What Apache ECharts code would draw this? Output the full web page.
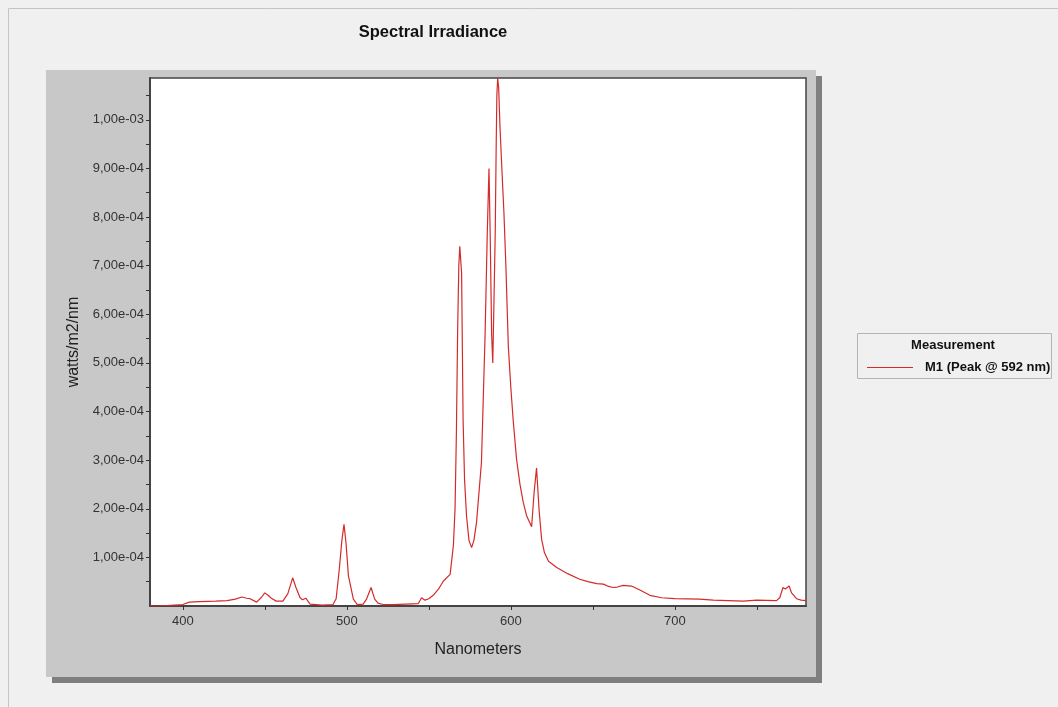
<!DOCTYPE html>
<html>
<head>
<meta charset="utf-8">
<script src="https://cdn.jsdelivr.net/npm/echarts@6/dist/echarts.min.js"></script>
<style>
html,body{margin:0;padding:0;background:#f0f0f0;}
#c{width:1058px;height:707px;}
</style>
</head>
<body>
<div id="c"></div>
<script>
// Wavelength (nm)
const wavelengths = [380,385,390,395,400,404,410,420,427,432,436,439,441,445,448,450,452,454,457,461,464,467,469,471.5,473,475,477.6,485,491.6,493.5,495.4,497,498.3,499.5,501,504,506.4,510,512,514.8,517,519,522,528,536,543.6,545.6,547.7,550,552.7,556,558.8,563,565,566,566.8,567.6,568.3,568.9,570,570.9,571.8,573,574.5,576.1,577.5,579.1,582.1,584.3,585.7,586.7,587.5,588.3,589,589.7,590.5,591.1,591.5,592,592.6,593.4,594.4,595.8,597,598.5,600,601.5,603.5,605.6,607.6,609.7,612.7,614.2,615.7,617.3,618.8,620.5,623,628,635,642,647,652.4,656.5,659,662.4,665,668.5,673.6,678.7,684.8,692,700,715,723.5,741.7,750,762,764,766,767.4,769.7,771.2,774.2,777,780];
// Spectral irradiance (watts/m2/nm)
const irradiance = [0,0,1e-6,2e-6,3e-6,8e-6,9e-6,1.0e-5,1.1e-5,1.4e-5,1.85e-5,1.6e-5,1.5e-5,8e-6,1.8e-5,2.7e-5,2.2e-5,1.6e-5,1.0e-5,1.0e-5,2.5e-5,5.8e-5,3.8e-5,1.7e-5,1.3e-5,1.6e-5,4e-6,2e-6,3e-6,1.5e-5,7.5e-5,1.35e-4,1.68e-4,1.3e-4,6.2e-5,1.4e-5,3e-6,4e-6,1.4e-5,3.8e-5,1.4e-5,6e-6,3e-6,3e-6,4e-6,5e-6,1.7e-5,1.2e-5,1.5e-5,2.2e-5,3.5e-5,5.1e-5,6.5e-5,1.25e-4,2.0e-4,3.5e-4,5.7e-4,7.0e-4,7.4e-4,6.85e-4,3.84e-4,2.6e-4,1.85e-4,1.35e-4,1.2e-4,1.35e-4,1.72e-4,2.95e-4,5.55e-4,7.74e-4,9.0e-4,7.5e-4,5.6e-4,5.0e-4,6.2e-4,7.67e-4,9.5e-4,1.05e-3,1.086e-3,1.066e-3,9.86e-4,9.1e-4,8.1e-4,7.0e-4,5.34e-4,4.5e-4,3.8e-4,3.02e-4,2.5e-4,2.13e-4,1.85e-4,1.63e-4,2.33e-4,2.84e-4,1.95e-4,1.37e-4,1.1e-4,9.2e-5,7.9e-5,6.6e-5,5.5e-5,5.0e-5,4.6e-5,4.5e-5,4.1e-5,3.8e-5,3.9e-5,4.25e-5,4.1e-5,3.3e-5,2.2e-5,1.7e-5,1.5e-5,1.4e-5,1.2e-5,1.0e-5,1.2e-5,1.1e-5,1.7e-5,3.8e-5,3.5e-5,4.1e-5,2.7e-5,1.5e-5,1.2e-5,1.1e-5];

const xLabelValues = [400,500,600,700];
const xTickValues = [400,450,500,550,600,650,700,750];
const yLabelValues = [1e-4,2e-4,3e-4,4e-4,5e-4,6e-4,7e-4,8e-4,9e-4,1e-3];
const yLabelTexts = ['1,00e-04','2,00e-04','3,00e-04','4,00e-04','5,00e-04','6,00e-04','7,00e-04','8,00e-04','9,00e-04','1,00e-03'];
const yTickValues = [5e-5,1e-4,1.5e-4,2e-4,2.5e-4,3e-4,3.5e-4,4e-4,4.5e-4,5e-4,5.5e-4,6e-4,6.5e-4,7e-4,7.5e-4,8e-4,8.5e-4,9e-4,9.5e-4,1e-3,1.05e-3];
const seriesName = 'M1 (Peak @ 592 nm)';

const FONT = '"Liberation Sans", Arial, sans-serif';
const LINE_COLOR = '#d42a2a';
const chart = echarts.init(document.getElementById('c'), null, {renderer: 'canvas'});

function yFmt(v) {
  let best = 0, bd = Infinity;
  yLabelValues.forEach((lv, i) => { const d = Math.abs(lv - v); if (d < bd) { bd = d; best = i; } });
  return yLabelTexts[best];
}

chart.setOption({
  backgroundColor: '#f0f0f0',
  animation: false,
  title: {
    text: 'Spectral Irradiance',
    left: 428, top: 19, textAlign: 'center',
    textStyle: {fontFamily: FONT, fontSize: 16.5, fontWeight: 'bold', color: '#111'}
  },
  graphic: [
    {type: 'rect', z: -10, shape: {x: 8.5, y: 8.5, width: 1100, height: 800}, style: {fill: '#f0f0f0', stroke: '#c4c4c4', lineWidth: 1}},
    {type: 'rect', z: -9, shape: {x: 52, y: 76, width: 770, height: 607}, style: {fill: '#7f7f7f'}},
    {type: 'rect', z: -8, shape: {x: 46, y: 70, width: 770, height: 607}, style: {fill: '#c8c8c8'}},
    {type: 'rect', z: -7, shape: {x: 857.5, y: 333.5, width: 194, height: 45}, style: {fill: '#f0f0f0', stroke: '#b4b4b4', lineWidth: 1}},
    {type: 'text', z: 5, style: {x: 953, y: 345, text: 'Measurement', align: 'center', verticalAlign: 'middle', font: 'bold 13px ' + FONT, fill: '#111'}}
  ],
  legend: {
    show: true,
    left: 862, top: 356,
    itemWidth: 46, itemHeight: 1.2,
    data: [{name: seriesName, icon: 'rect', itemStyle: {color: LINE_COLOR, borderWidth: 0}}],
    textStyle: {fontFamily: FONT, fontSize: 13, fontWeight: 'bold', color: '#111', padding: [0, 0, 0, 7]}
  },
  grid: {
    left: 150, top: 78, width: 656, height: 528,
    show: true, backgroundColor: '#ffffff', borderColor: '#444', borderWidth: 1.5
  },
  xAxis: {
    type: 'value', min: 380, max: 780,
    name: 'Nanometers', nameLocation: 'middle', nameGap: 36,
    nameTextStyle: {fontFamily: FONT, fontSize: 16, color: '#222'},
    axisLine: {show: true, onZero: false, lineStyle: {color: '#444', width: 2}},
    axisTick: {show: true, customValues: xTickValues, length: 4, lineStyle: {color: '#333'}},
    axisLabel: {customValues: xLabelValues, fontFamily: FONT, fontSize: 13, color: '#333', margin: 9},
    splitLine: {show: false}
  },
  yAxis: {
    type: 'value', min: 0, max: 1.086e-3,
    name: 'watts/m2/nm', nameLocation: 'middle', nameGap: 62, nameRotate: 90,
    nameTextStyle: {fontFamily: FONT, fontSize: 16, color: '#222'},
    axisLine: {show: true, lineStyle: {color: '#444', width: 2}},
    axisTick: {show: true, customValues: yTickValues, length: 4, lineStyle: {color: '#333'}},
    axisLabel: {customValues: yLabelValues, formatter: yFmt, fontFamily: FONT, fontSize: 13, color: '#333', margin: 6},
    splitLine: {show: false}
  },
  series: [{
    name: seriesName,
    type: 'line',
    data: wavelengths.map((w, i) => [w, irradiance[i]]),
    symbol: 'none',
    lineStyle: {color: LINE_COLOR, width: 1.2},
    itemStyle: {color: LINE_COLOR},
    clip: true
  }]
});
</script>
</body>
</html>
